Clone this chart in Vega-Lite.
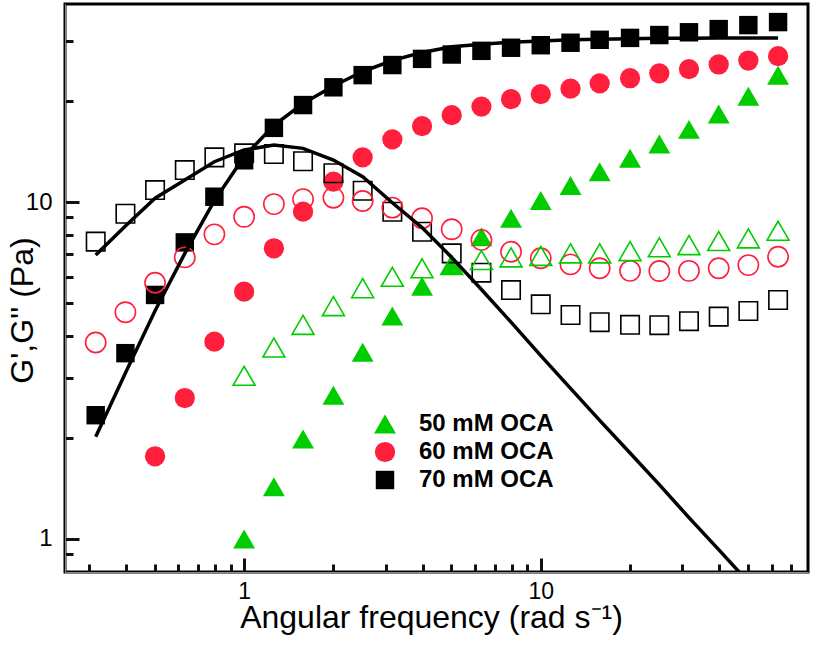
{
 "$schema": "https://vega.github.io/schema/vega-lite/v6.json",
 "width": 743, "height": 568,
 "autosize": {"type": "none"},
 "padding": {"left": 65, "top": 4, "right": 5, "bottom": 83},
 "background": "white",
 "config": {
  "view": {"stroke": "black", "strokeWidth": 3},
  "font": "Liberation Sans"
 },
 "datasets": {
  "gp": [
   {"w":0.316,"v":2.33,"conc":"70 mM OCA"},{"w":0.398,"v":3.56,"conc":"70 mM OCA"},{"w":0.501,"v":5.30,"conc":"70 mM OCA"},{"w":0.631,"v":7.59,"conc":"70 mM OCA"},{"w":0.794,"v":10.37,"conc":"70 mM OCA"},{"w":1,"v":13.3,"conc":"70 mM OCA"},{"w":1.26,"v":16.6,"conc":"70 mM OCA"},{"w":1.58,"v":19.4,"conc":"70 mM OCA"},{"w":2,"v":21.9,"conc":"70 mM OCA"},{"w":2.51,"v":23.8,"conc":"70 mM OCA"},{"w":3.16,"v":25.5,"conc":"70 mM OCA"},{"w":3.98,"v":26.6,"conc":"70 mM OCA"},{"w":5.01,"v":27.4,"conc":"70 mM OCA"},{"w":6.31,"v":28.1,"conc":"70 mM OCA"},{"w":7.94,"v":28.7,"conc":"70 mM OCA"},{"w":10,"v":29.2,"conc":"70 mM OCA"},{"w":12.6,"v":29.7,"conc":"70 mM OCA"},{"w":15.8,"v":30.3,"conc":"70 mM OCA"},{"w":20,"v":30.7,"conc":"70 mM OCA"},{"w":25.1,"v":31.3,"conc":"70 mM OCA"},{"w":31.6,"v":31.9,"conc":"70 mM OCA"},{"w":39.8,"v":32.6,"conc":"70 mM OCA"},{"w":50.1,"v":33.5,"conc":"70 mM OCA"},{"w":63.1,"v":34.2,"conc":"70 mM OCA"},
   {"w":0.501,"v":1.76,"conc":"60 mM OCA"},{"w":0.631,"v":2.62,"conc":"60 mM OCA"},{"w":0.794,"v":3.85,"conc":"60 mM OCA"},{"w":1,"v":5.42,"conc":"60 mM OCA"},{"w":1.26,"v":7.29,"conc":"60 mM OCA"},{"w":1.58,"v":9.36,"conc":"60 mM OCA"},{"w":2,"v":11.49,"conc":"60 mM OCA"},{"w":2.51,"v":13.57,"conc":"60 mM OCA"},{"w":3.16,"v":15.35,"conc":"60 mM OCA"},{"w":3.98,"v":16.8,"conc":"60 mM OCA"},{"w":5.01,"v":18.1,"conc":"60 mM OCA"},{"w":6.31,"v":19.2,"conc":"60 mM OCA"},{"w":7.94,"v":20.2,"conc":"60 mM OCA"},{"w":10,"v":20.9,"conc":"60 mM OCA"},{"w":12.6,"v":21.7,"conc":"60 mM OCA"},{"w":15.8,"v":22.5,"conc":"60 mM OCA"},{"w":20,"v":23.3,"conc":"60 mM OCA"},{"w":25.1,"v":24.1,"conc":"60 mM OCA"},{"w":31.6,"v":24.8,"conc":"60 mM OCA"},{"w":39.8,"v":25.6,"conc":"60 mM OCA"},{"w":50.1,"v":26.3,"conc":"60 mM OCA"},{"w":63.1,"v":27.1,"conc":"60 mM OCA"},
   {"w":1,"v":1.0,"conc":"50 mM OCA"},{"w":1.26,"v":1.43,"conc":"50 mM OCA"},{"w":1.58,"v":1.98,"conc":"50 mM OCA"},{"w":2,"v":2.67,"conc":"50 mM OCA"},{"w":2.51,"v":3.58,"conc":"50 mM OCA"},{"w":3.16,"v":4.59,"conc":"50 mM OCA"},{"w":3.98,"v":5.62,"conc":"50 mM OCA"},{"w":5.01,"v":6.5,"conc":"50 mM OCA"},{"w":6.31,"v":7.89,"conc":"50 mM OCA"},{"w":7.94,"v":8.95,"conc":"50 mM OCA"},{"w":10,"v":10.1,"conc":"50 mM OCA"},{"w":12.6,"v":11.2,"conc":"50 mM OCA"},{"w":15.8,"v":12.3,"conc":"50 mM OCA"},{"w":20,"v":13.48,"conc":"50 mM OCA"},{"w":25.1,"v":14.86,"conc":"50 mM OCA"},{"w":31.6,"v":16.43,"conc":"50 mM OCA"},{"w":39.8,"v":18.25,"conc":"50 mM OCA"},{"w":50.1,"v":20.6,"conc":"50 mM OCA"},{"w":63.1,"v":23.8,"conc":"50 mM OCA"}
  ],
  "gpp": [
   {"w":0.316,"v":7.63,"conc":"70 mM OCA"},{"w":0.398,"v":9.23,"conc":"70 mM OCA"},{"w":0.501,"v":10.85,"conc":"70 mM OCA"},{"w":0.631,"v":12.44,"conc":"70 mM OCA"},{"w":0.794,"v":13.57,"conc":"70 mM OCA"},{"w":1,"v":13.95,"conc":"70 mM OCA"},{"w":1.26,"v":13.88,"conc":"70 mM OCA"},{"w":1.58,"v":13.21,"conc":"70 mM OCA"},{"w":2,"v":12.17,"conc":"70 mM OCA"},{"w":2.51,"v":10.8,"conc":"70 mM OCA"},{"w":3.16,"v":9.36,"conc":"70 mM OCA"},{"w":3.98,"v":8.16,"conc":"70 mM OCA"},{"w":5.01,"v":7.04,"conc":"70 mM OCA"},{"w":6.31,"v":6.17,"conc":"70 mM OCA"},{"w":7.94,"v":5.48,"conc":"70 mM OCA"},{"w":10,"v":4.97,"conc":"70 mM OCA"},{"w":12.6,"v":4.62,"conc":"70 mM OCA"},{"w":15.8,"v":4.4,"conc":"70 mM OCA"},{"w":20,"v":4.32,"conc":"70 mM OCA"},{"w":25.1,"v":4.31,"conc":"70 mM OCA"},{"w":31.6,"v":4.43,"conc":"70 mM OCA"},{"w":39.8,"v":4.57,"conc":"70 mM OCA"},{"w":50.1,"v":4.75,"conc":"70 mM OCA"},{"w":63.1,"v":5.12,"conc":"70 mM OCA"},
   {"w":0.316,"v":3.83,"conc":"60 mM OCA"},{"w":0.398,"v":4.71,"conc":"60 mM OCA"},{"w":0.501,"v":5.76,"conc":"60 mM OCA"},{"w":0.631,"v":6.85,"conc":"60 mM OCA"},{"w":0.794,"v":8.02,"conc":"60 mM OCA"},{"w":1,"v":9.04,"conc":"60 mM OCA"},{"w":1.26,"v":9.86,"conc":"60 mM OCA"},{"w":1.58,"v":10.2,"conc":"60 mM OCA"},{"w":2,"v":10.3,"conc":"60 mM OCA"},{"w":2.51,"v":10.07,"conc":"60 mM OCA"},{"w":3.16,"v":9.62,"conc":"60 mM OCA"},{"w":3.98,"v":8.95,"conc":"60 mM OCA"},{"w":5.01,"v":8.3,"conc":"60 mM OCA"},{"w":6.31,"v":7.72,"conc":"60 mM OCA"},{"w":7.94,"v":7.12,"conc":"60 mM OCA"},{"w":10,"v":6.81,"conc":"60 mM OCA"},{"w":12.6,"v":6.53,"conc":"60 mM OCA"},{"w":15.8,"v":6.36,"conc":"60 mM OCA"},{"w":20,"v":6.25,"conc":"60 mM OCA"},{"w":25.1,"v":6.24,"conc":"60 mM OCA"},{"w":31.6,"v":6.25,"conc":"60 mM OCA"},{"w":39.8,"v":6.36,"conc":"60 mM OCA"},{"w":50.1,"v":6.5,"conc":"60 mM OCA"},{"w":63.1,"v":6.88,"conc":"60 mM OCA"},
   {"w":1,"v":3.05,"conc":"50 mM OCA"},{"w":1.26,"v":3.7,"conc":"50 mM OCA"},{"w":1.58,"v":4.32,"conc":"50 mM OCA"},{"w":2,"v":4.91,"conc":"50 mM OCA"},{"w":2.51,"v":5.55,"conc":"50 mM OCA"},{"w":3.16,"v":6.0,"conc":"50 mM OCA"},{"w":3.98,"v":6.36,"conc":"50 mM OCA"},{"w":5.01,"v":6.5,"conc":"50 mM OCA"},{"w":6.31,"v":6.73,"conc":"50 mM OCA"},{"w":7.94,"v":6.85,"conc":"50 mM OCA"},{"w":10,"v":6.92,"conc":"50 mM OCA"},{"w":12.6,"v":7.04,"conc":"50 mM OCA"},{"w":15.8,"v":7.04,"conc":"50 mM OCA"},{"w":20,"v":7.15,"conc":"50 mM OCA"},{"w":25.1,"v":7.34,"conc":"50 mM OCA"},{"w":31.6,"v":7.45,"conc":"50 mM OCA"},{"w":39.8,"v":7.66,"conc":"50 mM OCA"},{"w":50.1,"v":7.8,"conc":"50 mM OCA"},{"w":63.1,"v":8.22,"conc":"50 mM OCA"}
  ],
  "fit": [
   {"w":0.316,"v":2.01,"curve":"G'"},{"w":0.398,"v":3.11,"curve":"G'"},{"w":0.501,"v":4.76,"curve":"G'"},{"w":0.631,"v":7.04,"curve":"G'"},{"w":0.794,"v":10.1,"curve":"G'"},{"w":1,"v":13.63,"curve":"G'"},{"w":1.26,"v":16.9,"curve":"G'"},{"w":1.58,"v":19.6,"curve":"G'"},{"w":2,"v":22.1,"curve":"G'"},{"w":2.51,"v":24.4,"curve":"G'"},{"w":3.16,"v":26.3,"curve":"G'"},{"w":3.98,"v":27.8,"curve":"G'"},{"w":5.01,"v":28.9,"curve":"G'"},{"w":6.31,"v":29.4,"curve":"G'"},{"w":7.94,"v":29.8,"curve":"G'"},{"w":10,"v":30.05,"curve":"G'"},{"w":12.6,"v":30.3,"curve":"G'"},{"w":15.8,"v":30.4,"curve":"G'"},{"w":20,"v":30.5,"curve":"G'"},{"w":25.1,"v":30.6,"curve":"G'"},{"w":31.6,"v":30.6,"curve":"G'"},{"w":39.8,"v":30.7,"curve":"G'"},{"w":50.1,"v":30.7,"curve":"G'"},{"w":63.1,"v":30.7,"curve":"G'"},
   {"w":0.316,"v":6.96,"curve":"G''"},{"w":0.398,"v":8.49,"curve":"G''"},{"w":0.501,"v":10.26,"curve":"G''"},{"w":0.631,"v":11.62,"curve":"G''"},{"w":0.794,"v":13.17,"curve":"G''"},{"w":1,"v":14.27,"curve":"G''"},{"w":1.26,"v":14.76,"curve":"G''"},{"w":1.58,"v":14.43,"curve":"G''"},{"w":2,"v":13.32,"curve":"G''"},{"w":2.51,"v":11.89,"curve":"G''"},{"w":3.16,"v":9.95,"curve":"G''"},{"w":3.98,"v":8.4,"curve":"G''"},{"w":5.01,"v":6.85,"curve":"G''"},{"w":6.31,"v":5.5,"curve":"G''"},{"w":7.94,"v":4.4,"curve":"G''"},{"w":10,"v":3.5,"curve":"G''"},{"w":12.6,"v":2.8,"curve":"G''"},{"w":15.8,"v":2.25,"curve":"G''"},{"w":20,"v":1.8,"curve":"G''"},{"w":25.1,"v":1.45,"curve":"G''"},{"w":31.6,"v":1.157,"curve":"G''"},{"w":39.8,"v":0.93,"curve":"G''"},{"w":50.1,"v":0.745,"curve":"G''"},{"w":63.1,"v":0.599,"curve":"G''"}
  ]
 },
 "layer": [
  {
   "data": {"name": "gp"},
   "mark": {"type": "point", "filled": true, "opacity": 1},
   "encoding": {
    "x": {"field": "w", "type": "quantitative", "scale": {"type": "log", "domain": [0.249, 79.6], "nice": false},
          "axis": {"orient": "top", "offset": -568, "values": [0.3,0.4,0.5,0.6,0.7,0.8,0.9,1,2,3,4,5,6,7,8,9,10,20,30,40,50,60,70], "labels": false, "ticks": true,
                   "tickSize": {"condition": {"test": "datum.value == 1 || datum.value == 10", "value": 14}, "value": 8}, "tickWidth": 3, "tickColor": "#111111", "gridOpacity": 0, "title": null}},
    "y": {"field": "v", "type": "quantitative", "scale": {"type": "log", "domain": [0.798, 38.7], "nice": false},
          "axis": {"orient": "right", "offset": -743, "values": [0.9,1,2,3,4,5,6,7,8,9,10,20,30], "labels": false, "ticks": true,
                   "tickSize": {"condition": {"test": "datum.value == 1 || datum.value == 10", "value": 14}, "value": 8}, "tickWidth": 3, "tickColor": "#111111", "gridOpacity": 0, "title": null}},
    "color": {"field": "conc", "type": "nominal", "scale": {"domain": ["50 mM OCA","60 mM OCA","70 mM OCA"], "range": ["#00cc00","#ff1f3d","#000000"]},
              "legend": {"orient": "none", "legendX": 308, "legendY": 408, "title": null, "labelFontSize": 24, "labelFontWeight": "bold", "labelFont": "Liberation Sans", "labelColor": "black", "rowPadding": 4, "labelOffset": 22, "padding": 0, "symbolStrokeWidth": 0}},
    "shape": {"field": "conc", "type": "nominal", "scale": {"domain": ["50 mM OCA","60 mM OCA","70 mM OCA"], "range": ["triangle-up","circle","square"]},
              "legend": {"orient": "none", "legendX": 308, "legendY": 408, "title": null, "labelFontSize": 24, "labelFontWeight": "bold", "labelFont": "Liberation Sans", "labelColor": "black", "rowPadding": 4, "labelOffset": 22, "padding": 0, "symbolStrokeWidth": 0}},
    "size": {"field": "conc", "type": "nominal", "scale": {"domain": ["50 mM OCA","60 mM OCA","70 mM OCA"], "range": [480, 340, 290]},
              "legend": {"orient": "none", "legendX": 308, "legendY": 408, "title": null, "labelFontSize": 24, "labelFontWeight": "bold", "labelFont": "Liberation Sans", "labelColor": "black", "rowPadding": 4, "labelOffset": 22, "padding": 0, "symbolStrokeWidth": 0}}
   }
  },
  {
   "data": {"name": "gpp"},
   "mark": {"type": "point", "filled": false, "strokeWidth": 1.6, "opacity": 1},
   "encoding": {
    "x": {"field": "w", "type": "quantitative", "axis": null},
    "y": {"field": "v", "type": "quantitative", "axis": null},
    "color": {"field": "conc", "type": "nominal", "legend": null},
    "shape": {"field": "conc", "type": "nominal", "legend": null},
    "size": {"field": "conc", "type": "nominal", "legend": null}
   }
  },
  {
   "data": {"name": "fit"},
   "mark": {"type": "line", "color": "black", "strokeWidth": 3.5, "clip": true},
   "encoding": {
    "x": {"field": "w", "type": "quantitative",
          "axis": {"orient": "bottom", "values": [1, 10], "format": "~g", "ticks": false, "gridOpacity": 0, "labelPadding": 8, "labelFontSize": 23, "labelColor": "black", "labelFont": "Liberation Sans",
                   "title": "Angular frequency (rad s⁻¹)", "titleFont": "Liberation Sans", "titleFontWeight": "normal", "titleColor": "black", "titleFontSize": 32, "titleX": 366, "titleY": 55, "titleBaseline": "alphabetic", "titleAlign": "center"}},
    "y": {"field": "v", "type": "quantitative",
          "axis": {"orient": "left", "values": [1, 10], "format": "~g", "ticks": false, "gridOpacity": 0, "labelPadding": 13, "labelFontSize": 24, "labelColor": "black", "labelFont": "Liberation Sans",
                   "title": "G',G'' (Pa)", "titleFont": "Liberation Sans", "titleFontWeight": "normal", "titleColor": "black", "titleFontSize": 32, "titleX": -33, "titleY": 306, "titleBaseline": "alphabetic", "titleAngle": -90, "titleAlign": "center"}},
    "detail": {"field": "curve"}
   }
  }
 ],
 "resolve": {"axis": {"x": "independent", "y": "independent"}}
}
